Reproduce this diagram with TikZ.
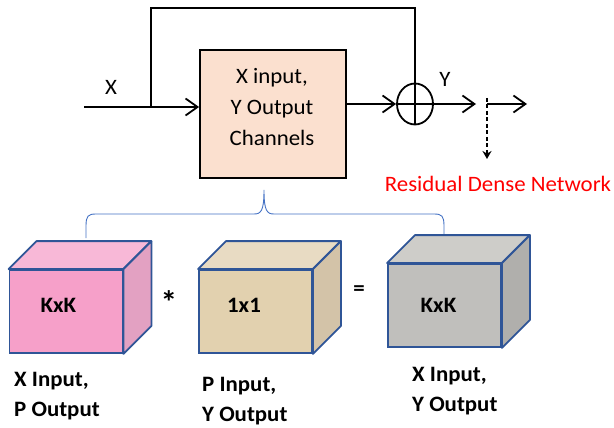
\documentclass[tikz,border=0pt]{standalone}
\usepackage{fontspec}
\setmainfont{Carlito}[FakeStretch=1.04]
\usetikzlibrary{arrows.meta,shapes.geometric}

\definecolor{peach}{RGB}{251,224,207}
\definecolor{edgeblue}{RGB}{47,85,151}
\definecolor{bracecol}{RGB}{68,114,196}
\definecolor{pinkF}{RGB}{246,160,201}
\definecolor{pinkT}{RGB}{248,184,215}
\definecolor{pinkS}{RGB}{227,161,194}
\definecolor{tanF}{RGB}{226,209,175}
\definecolor{tanT}{RGB}{232,219,195}
\definecolor{tanS}{RGB}{211,195,168}
\definecolor{grayF}{RGB}{192,191,188}
\definecolor{grayT}{RGB}{206,205,201}
\definecolor{grayS}{RGB}{176,175,172}

\tikzset{
  wire/.style={line width=1.8pt, black},
  openarrow/.style={wire, -{Straight Barb[length=12pt,width=17pt,line width=1.8pt]}},
  dasharrow/.style={line width=1.4pt, dash pattern=on 4pt off 2.5pt, -{Stealth[length=8pt,width=9pt]}},
  reg/.style={font=\fontsize{22}{31}\selectfont, inner sep=0pt},
  boldtxt/.style={font=\bfseries\fontsize{22}{30}\selectfont, inner sep=0pt},
  boldlbl/.style={boldtxt, align=left, anchor=north west},
  cubefront/.style={draw=edgeblue, line width=1.8pt, minimum width=113pt, minimum height=83pt, inner sep=0pt},
  cubeface/.style={draw=edgeblue, line width=1.8pt, line join=round},
}

% depth of the cube faces (right and up)
\newcommand\cubefaces[3]{%
  \filldraw[cubeface, fill=#2] (#1.north west) -- ([shift={(28,-28)}]#1.north west)
    -- ([shift={(28,-28)}]#1.north east) -- (#1.north east) -- cycle;
  \filldraw[cubeface, fill=#3] (#1.north east) -- ([shift={(28,-28)}]#1.north east)
    -- ([shift={(28,-28)}]#1.south east) -- (#1.south east) -- cycle;
}

\begin{document}
\begin{tikzpicture}[x=1pt, y=-1pt]
\useasboundingbox (0,0) rectangle (614,428);

% ---- residual block ----
\node[draw, line width=1.8pt, fill=peach, minimum width=146pt, minimum height=128pt,
      inner sep=0pt] (blk) at (273,114) {};
\node[reg, align=center, anchor=north] (blktxt) at (272,68) {X input,\\Y Output\\Channels};
\node[ellipse, draw, line width=1.8pt, minimum width=36pt, minimum height=41pt, inner sep=0pt] (sum) at (415,104) {};
\draw[wire] (sum.north) -- (sum.south);
\draw[wire] (sum.west) -- (sum.east);

\coordinate (in) at (84,107);
\coordinate (br) at (151,107);
\coordinate (y1) at (476,104);
\coordinate (split) at (487,104);
\coordinate (out) at (527,104);
\coordinate (rd) at (487,159);

\draw[openarrow] (in) -- (in -| blk.west);
\draw[wire, line join=miter] (br) -- (151,8) -- (415,8) -- (sum.north);
\draw[openarrow] (blk.east |- sum) -- (sum.west);
\draw[openarrow] (sum.east) -- (y1);
\draw[openarrow] (split) -- (out);
\draw[dasharrow] ([yshift=6]split) -- (rd);

\node[reg] (xlbl) at (111,87) {X};
\node[reg] (ylbl) at (445,79) {Y};
\node[reg, text=red] (rdn) at (498,184) {Residual Dense Network};

% ---- brace ----
\draw[bracecol, line width=0.9pt]
  (86,238) -- (86,226) .. controls (86,216) and (88,214) .. (96,214) -- (254,214)
  .. controls (261,214) and (264,211) .. (264,190)
  .. controls (264,211) and (267,214) .. (274,214) -- (434,214)
  .. controls (442,214) and (444,216) .. (444,226) -- (444,238);

% ---- cubes ----
\node[cubefront, fill=pinkF] (c1) at (66,311.5) {};
\cubefaces{c1}{pinkT}{pinkS}
\node[cubefront, fill=tanF] (c2) at (255.5,311.5) {};
\cubefaces{c2}{tanT}{tanS}
\node[cubefront, fill=grayF] (c3) at (444.5,305.5) {};
\cubefaces{c3}{grayT}{grayS}

\node[boldtxt] (k1) at (58.5,305) {KxK};
\node[boldtxt] (k2) at (244,305.5) {1x1};
\node[boldtxt] (k3) at (438.5,305) {KxK};

\node[font=\bfseries\fontsize{32}{34}\selectfont, inner sep=0pt] (times) at (169,302) {*};
\node[boldtxt] (equals) at (359,291) {=};

\node[boldlbl] (l1) at (14,372) {X Input,\\P Output};
\node[boldlbl] (l2) at (202,377) {P Input,\\Y Output};
\node[boldlbl] (l3) at (412,367) {X Input,\\Y Output};
\end{tikzpicture}
\end{document}
